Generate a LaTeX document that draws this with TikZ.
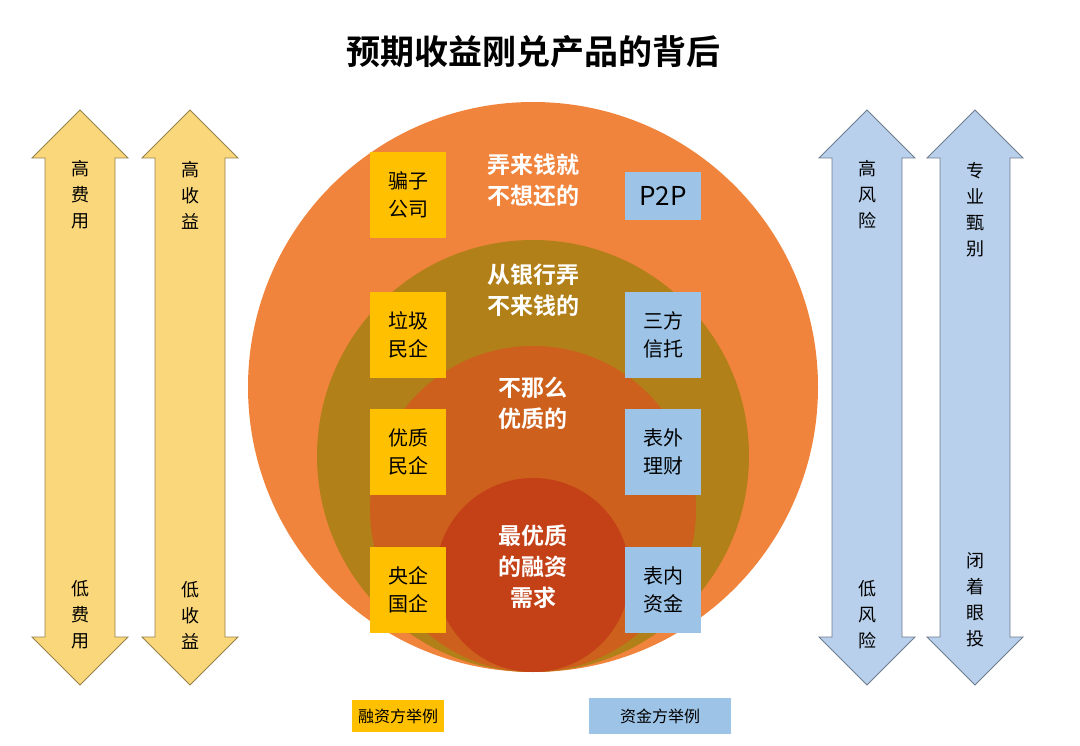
\documentclass[tikz,border=0pt]{standalone}
\usepackage{fontspec}
\setmainfont{Noto Sans CJK SC}
\newfontfamily\cjkb{Noto Sans CJK SC Bold}
\definecolor{yel}{HTML}{FFC000}
\definecolor{blu}{HTML}{9DC3E6}
\definecolor{arY}{HTML}{FAD77A}
\definecolor{arB}{HTML}{B8D0EC}
\newcommand{\myDblArrow}[2]{%
 \filldraw[fill=#2,draw=#2!60!black,line width=0.8pt]
  (#1,110) -- (#1+48,158) -- (#1+35,158) -- (#1+35,637) -- (#1+48,637) -- (#1,685)
  -- (#1-48,637) -- (#1-35,637) -- (#1-35,158) -- (#1-48,158) -- cycle;}
\tikzset{
 ybox/.style={fill=yel,minimum width=76pt,minimum height=86pt,align=center,font=\fontsize{20}{28}\selectfont,inner sep=2pt},
 bbox/.style={ybox,fill=blu},
 ctext/.style={text=white,align=center,font=\cjkb\fontsize{23}{31}\selectfont},
 vtxt/.style={align=center,font=\fontsize{18}{26}\selectfont}
}
\begin{document}
\begin{tikzpicture}[x=1pt,y=-1pt]
\useasboundingbox (0,0) rectangle (1080,746);
\node[font=\cjkb\fontsize{34}{40}\selectfont] (title) at (533,52) {预期收益刚兑产品的背后};
\fill[fill={rgb,255:red,240;green,132;blue,60}] (533,387) circle (285);
\fill[fill={rgb,255:red,178;green,128;blue,24}] (533,456) circle (216);
\fill[fill={rgb,255:red,204;green,96;blue,28}] (533,509) circle (163);
\fill[fill={rgb,255:red,196;green,64;blue,22}] (533,575) circle (97);
\node[ctext] (t1) at (533,180) {弄来钱就\\不想还的};
\node[ctext] (t2) at (533,290) {从银行弄\\不来钱的};
\node[ctext] (t3) at (533,403) {不那么\\优质的};
\node[ctext] (t4) at (533,567) {最优质\\的融资\\需求};
\node[ybox] (a1) at (408,195) {骗子\\公司};
\node[bbox,minimum height=48pt,font=\fontsize{26}{30}\selectfont] (b1) at (663,196) {P2P};
\node[ybox] (a2) at (408,335) {垃圾\\民企};
\node[bbox] (b2) at (663,335) {三方\\信托};
\node[ybox] (a3) at (408,452) {优质\\民企};
\node[bbox] (b3) at (663,452) {表外\\理财};
\node[ybox] (a4) at (408,590) {央企\\国企};
\node[bbox] (b4) at (663,590) {表内\\资金};
\myDblArrow{80}{arY}
\myDblArrow{190}{arY}
\myDblArrow{867}{arB}
\myDblArrow{975}{arB}
\node[vtxt] (A1t) at (80,195) {高\\费\\用};
\node[vtxt] (A1b) at (80,615) {低\\费\\用};
\node[vtxt] (A2t) at (190,195) {高\\收\\益};
\node[vtxt] (A2b) at (190,615) {低\\收\\益};
\node[vtxt] (B1t) at (867,195) {高\\风\\险};
\node[vtxt] (B1b) at (867,615) {低\\风\\险};
\node[vtxt] (B2t) at (975,210) {专\\业\\甄\\别};
\node[vtxt] (B2b) at (975,600) {闭\\着\\眼\\投};
\node[fill=yel,minimum width=92pt,minimum height=32pt,font=\fontsize{16}{20}\selectfont] (L1) at (398,716) {融资方举例};
\node[fill=blu,minimum width=142pt,minimum height=36pt,font=\fontsize{16}{20}\selectfont] (L2) at (660,716) {资金方举例};
\end{tikzpicture}
\end{document}
